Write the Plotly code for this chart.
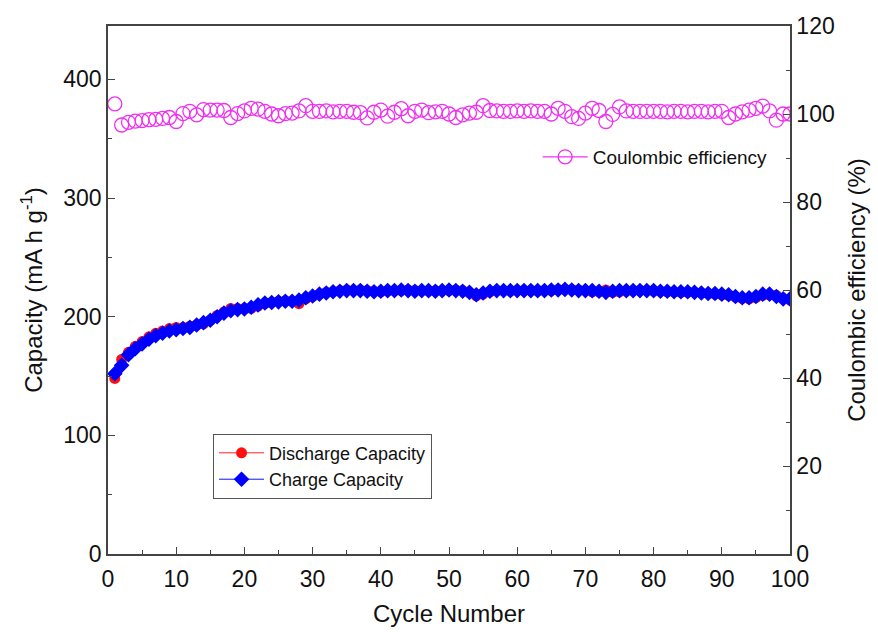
import plotly.graph_objects as go

cycles = list(range(1, 101))

charge_capacity = [
    152, 159, 168, 173, 177, 181, 184, 186, 188, 189,
    190, 191, 193, 195, 197, 200, 203, 205, 206, 206.5,
    208, 210, 211.5, 212, 212.5, 213, 213, 214, 216, 217.5,
    219, 220, 221, 221.5, 222, 222, 222, 221.5, 221, 221.5,
    222, 222, 222.5, 222, 221.5, 222, 222, 221.5, 222, 222.5,
    222, 221.5, 220.5, 218.5, 220, 221.5, 222, 222, 222, 222,
    222, 222, 222, 222, 222.5, 222.5, 223, 222.5, 222, 222,
    222, 221.5, 220.5, 221.5, 222, 222, 222, 222, 222, 222,
    221.5, 221.5, 221, 221, 221, 220.5, 220, 219.5, 219.5, 219,
    218.5, 217, 216, 216, 217, 219, 219, 217, 215, 215,
]

discharge_capacity = [
    148, 164, 170, 175, 179, 183, 186, 188, 190, 191,
    191, 192, 193, 194, 197, 201, 204, 207, 207, 207,
    207, 209, 211, 212, 213, 213.5, 213, 211, 215, 217,
    219, 220.5, 221, 222, 222.5, 222, 222.5, 222, 221.5, 221,
    221.5, 222, 222, 222.5, 222, 222, 221.5, 222, 222, 222,
    222.5, 222, 220, 217.5, 219, 221, 222, 222, 221.5, 222,
    222, 222, 221.5, 222, 222, 223, 223, 223, 222.5, 222,
    221, 221, 222.5, 220.5, 221, 221.5, 222, 222, 222, 221.5,
    221.5, 221, 221, 220.5, 220.5, 220.5, 220, 219.5, 219, 218.5,
    218, 216.5, 215.5, 215, 216, 218, 218.5, 218, 215.5, 214,
]

coulombic_efficiency = [
    102.3, 97.5, 98.1, 98.4, 98.5, 98.7, 98.8, 99.0, 99.2, 98.3,
    100.1, 100.6, 99.8, 101.0, 100.9, 100.9, 100.8, 99.2, 100.1, 100.7,
    101.3, 101.1, 100.6, 100.0, 99.6, 100.1, 100.2, 100.7, 101.9, 100.6,
    100.6, 100.7, 100.5, 100.6, 100.6, 100.4, 100.3, 99.1, 100.4, 100.9,
    99.5, 100.4, 101.2, 99.6, 100.6, 100.9, 100.3, 100.5, 100.6, 100.0,
    99.2, 99.8, 100.2, 100.4, 101.9, 100.8, 100.7, 100.6, 100.6, 100.7,
    100.6, 100.7, 100.6, 100.6, 100.0, 101.3, 100.6, 99.4, 99.0, 100.2,
    101.3, 100.8, 98.3, 99.9, 101.6, 100.7, 100.6, 100.6, 100.6, 100.6,
    100.6, 100.5, 100.6, 100.6, 100.5, 100.6, 100.6, 100.5, 100.6, 100.6,
    99.2, 100.0, 100.5, 100.9, 101.3, 101.8, 100.7, 98.6, 100.0, 100.0,
]

FONT = "Liberation Sans, Arial, sans-serif"
AXIS_COLOR = "#444444"
MAGENTA = "#f030f0"

fig = go.Figure()

# Coulombic efficiency data (markers only)
fig.add_trace(go.Scatter(
    x=cycles, y=coulombic_efficiency, yaxis="y2",
    name="Coulombic efficiency", mode="markers",
    marker=dict(symbol="circle-open", size=14, color=MAGENTA, line=dict(width=1.3)),
    showlegend=False,
))
# legend entry for Coulombic efficiency (line + marker symbol)
fig.add_trace(go.Scatter(
    x=[None], y=[None], yaxis="y2",
    name="Coulombic efficiency", mode="lines+markers",
    line=dict(color=MAGENTA, width=1.2),
    marker=dict(symbol="circle-open", size=14, color=MAGENTA, line=dict(width=1.3)),
    legend="legend2",
))
fig.add_trace(go.Scatter(
    x=cycles, y=discharge_capacity, name="Discharge Capacity",
    mode="lines+markers", line=dict(color="#ff2020", width=1),
    marker=dict(symbol="circle", size=11, color="#ff1010"),
))
fig.add_trace(go.Scatter(
    x=cycles, y=charge_capacity, name="Charge Capacity",
    mode="lines+markers", line=dict(color="#1010ff", width=1),
    marker=dict(symbol="diamond", size=12, color="#0000ff"),
))

axis_common = dict(
    showline=True, linecolor=AXIS_COLOR, linewidth=1.5,
    ticks="inside", ticklen=7, tickwidth=1.2, tickcolor=AXIS_COLOR,
    showgrid=False, zeroline=False, automargin=False,
    tickfont=dict(family=FONT, size=23, color="#111111"),
    title_font=dict(family=FONT, size=24, color="#111111"),
)

fig.update_layout(
    width=878, height=632,
    margin=dict(l=108, r=88, t=26, b=78),
    paper_bgcolor="white", plot_bgcolor="white",
    font=dict(family=FONT, color="#111111"),
    xaxis=dict(
        range=[0, 100], dtick=10, tick0=0, mirror=True,
        minor=dict(ticks="inside", ticklen=4, dtick=5, tickcolor=AXIS_COLOR),
        ticklabelstandoff=4,
        title=dict(text="Cycle Number", standoff=14),
        **axis_common,
    ),
    yaxis=dict(
        range=[0, 445], dtick=100, tick0=0,
        minor=dict(ticks="inside", ticklen=4, dtick=50, tickcolor=AXIS_COLOR),
        title=dict(text="Capacity (mA h g<sup>-1</sup>)", standoff=14),
        **axis_common,
    ),
    yaxis2=dict(
        range=[0, 120], dtick=20, tick0=0, overlaying="y", side="right",
        minor=dict(ticks="inside", ticklen=4, dtick=10, tickcolor=AXIS_COLOR),
        title=dict(text="Coulombic efficiency (%)", standoff=14),
        **axis_common,
    ),
    legend=dict(
        x=0.154, y=0.228, xanchor="left", yanchor="top",
        bgcolor="white", bordercolor="#555555", borderwidth=1,
        font=dict(family=FONT, size=18, color="#111111"),
        itemwidth=45, tracegroupgap=0,
    ),
    legend2=dict(
        x=0.63, y=0.752, xanchor="left", yanchor="middle",
        bgcolor="rgba(0,0,0,0)", borderwidth=0,
        font=dict(family=FONT, size=19, color="#111111"),
        itemwidth=45,
    ),
    showlegend=True,
)

fig.write_html("out.html")
